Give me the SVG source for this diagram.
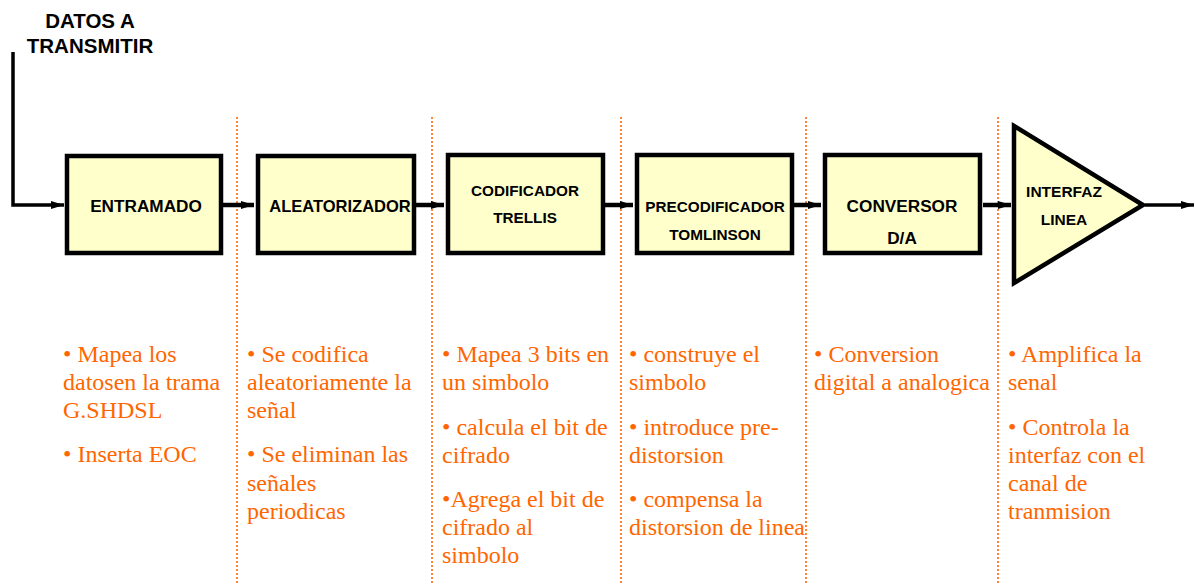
<svg xmlns="http://www.w3.org/2000/svg" width="1195" height="585" viewBox="0 0 1195 585">
<style>
.box{fill:#FFFFCC;stroke:#000;stroke-width:4.5}
.lbl{font-family:"Liberation Sans",Arial,sans-serif;font-weight:bold;fill:#000;text-anchor:middle}
.note{font-family:"Liberation Serif","Times New Roman",serif;font-size:24px;fill:#FF6600}
.sep{stroke:#FF6600;stroke-width:1.6;stroke-dasharray:2,2;fill:none}
.wire{stroke:#000;fill:none}
</style>
<defs>
<marker id="arr" markerUnits="userSpaceOnUse" markerWidth="14" markerHeight="10" refX="13" refY="4" orient="auto">
<path d="M0,0 L13,4 L0,8 z" fill="#000"/>
</marker>
</defs>
<rect width="1195" height="585" fill="#fff"/>
<g id="separators">
<line class="sep" x1="237" y1="117" x2="237" y2="585"/>
<line class="sep" x1="432" y1="117" x2="432" y2="585"/>
<line class="sep" x1="621" y1="117" x2="621" y2="585"/>
<line class="sep" x1="806" y1="117" x2="806" y2="585"/>
<line class="sep" x1="998" y1="117" x2="998" y2="585"/>
</g>
<g id="connectors">
<path class="wire" stroke-width="3.5" d="M13,52 V205 H64" marker-end="url(#arr)"/>
<line class="wire" stroke-width="4.5" x1="223" y1="205" x2="254" y2="205" marker-end="url(#arr)"/>
<line class="wire" stroke-width="4.5" x1="416" y1="205" x2="444" y2="205" marker-end="url(#arr)"/>
<line class="wire" stroke-width="4.5" x1="605" y1="205" x2="633" y2="205" marker-end="url(#arr)"/>
<line class="wire" stroke-width="4.5" x1="794" y1="205" x2="821" y2="205" marker-end="url(#arr)"/>
<line class="wire" stroke-width="4.5" x1="983" y1="205" x2="1011" y2="205" marker-end="url(#arr)"/>
<line class="wire" stroke-width="3.5" x1="1145" y1="205" x2="1194" y2="205" marker-end="url(#arr)"/>
</g>
<g id="input-label">
<text class="lbl" x="90" y="28" font-size="20.5">DATOS A</text>
<text class="lbl" x="90" y="53" font-size="20.5">TRANSMITIR</text>
</g>
<g id="entramado">
<rect class="box" x="67" y="156" width="154" height="97"/>
<text class="lbl" x="146" y="212" font-size="17.2">ENTRAMADO</text>
</g>
<g id="aleatorizador">
<rect class="box" x="258" y="156" width="156" height="97"/>
<text class="lbl" x="340" y="212" font-size="16.5">ALEATORIZADOR</text>
</g>
<g id="codificador">
<rect class="box" x="448" y="155" width="155" height="98"/>
<text class="lbl" x="525" y="196" font-size="15.3">CODIFICADOR</text>
<text class="lbl" x="525" y="223" font-size="15.3">TRELLIS</text>
</g>
<g id="precodificador">
<rect class="box" x="637" y="155" width="155" height="98"/>
<text class="lbl" x="715" y="212" font-size="15.3">PRECODIFICADOR</text>
<text class="lbl" x="715" y="240" font-size="15.3">TOMLINSON</text>
</g>
<g id="conversor">
<rect class="box" x="825" y="155" width="155" height="98"/>
<text class="lbl" x="902" y="212" font-size="17.2">CONVERSOR</text>
<text class="lbl" x="902" y="244" font-size="17.2">D/A</text>
</g>
<g id="interfaz">
<polygon class="box" points="1014,126 1143,205 1014,283"/>
<text class="lbl" x="1064" y="197" font-size="15.5">INTERFAZ</text>
<text class="lbl" x="1064" y="225" font-size="15.5">LINEA</text>
</g>
<g id="notes">
<text class="note" x="63" y="362">• Mapea los</text>
<text class="note" x="63" y="390">datosen la trama</text>
<text class="note" x="63" y="418">G.SHDSL</text>
<text class="note" x="63" y="462">• Inserta EOC</text>
<text class="note" x="247" y="362">• Se codifica</text>
<text class="note" x="247" y="390">aleatoriamente la</text>
<text class="note" x="247" y="418">señal</text>
<text class="note" x="247" y="462">• Se eliminan las</text>
<text class="note" x="247" y="491">señales</text>
<text class="note" x="247" y="519">periodicas</text>
<text class="note" x="442" y="362">• Mapea 3 bits en</text>
<text class="note" x="442" y="390">un simbolo</text>
<text class="note" x="442" y="435">• calcula el bit de</text>
<text class="note" x="442" y="463">cifrado</text>
<text class="note" x="442" y="507">•Agrega el bit de</text>
<text class="note" x="442" y="535">cifrado al</text>
<text class="note" x="442" y="563">simbolo</text>
<text class="note" x="629" y="362">• construye el</text>
<text class="note" x="629" y="390">simbolo</text>
<text class="note" x="629" y="435">• introduce pre-</text>
<text class="note" x="629" y="463">distorsion</text>
<text class="note" x="629" y="507">• compensa la</text>
<text class="note" x="629" y="535">distorsion de linea</text>
<text class="note" x="814" y="362">• Conversion</text>
<text class="note" x="814" y="390">digital a analogica</text>
<text class="note" x="1008" y="362">• Amplifica la</text>
<text class="note" x="1008" y="390">senal</text>
<text class="note" x="1008" y="435">• Controla la</text>
<text class="note" x="1008" y="463">interfaz con el</text>
<text class="note" x="1008" y="491">canal de</text>
<text class="note" x="1008" y="519">tranmision</text>
</g>
</svg>
